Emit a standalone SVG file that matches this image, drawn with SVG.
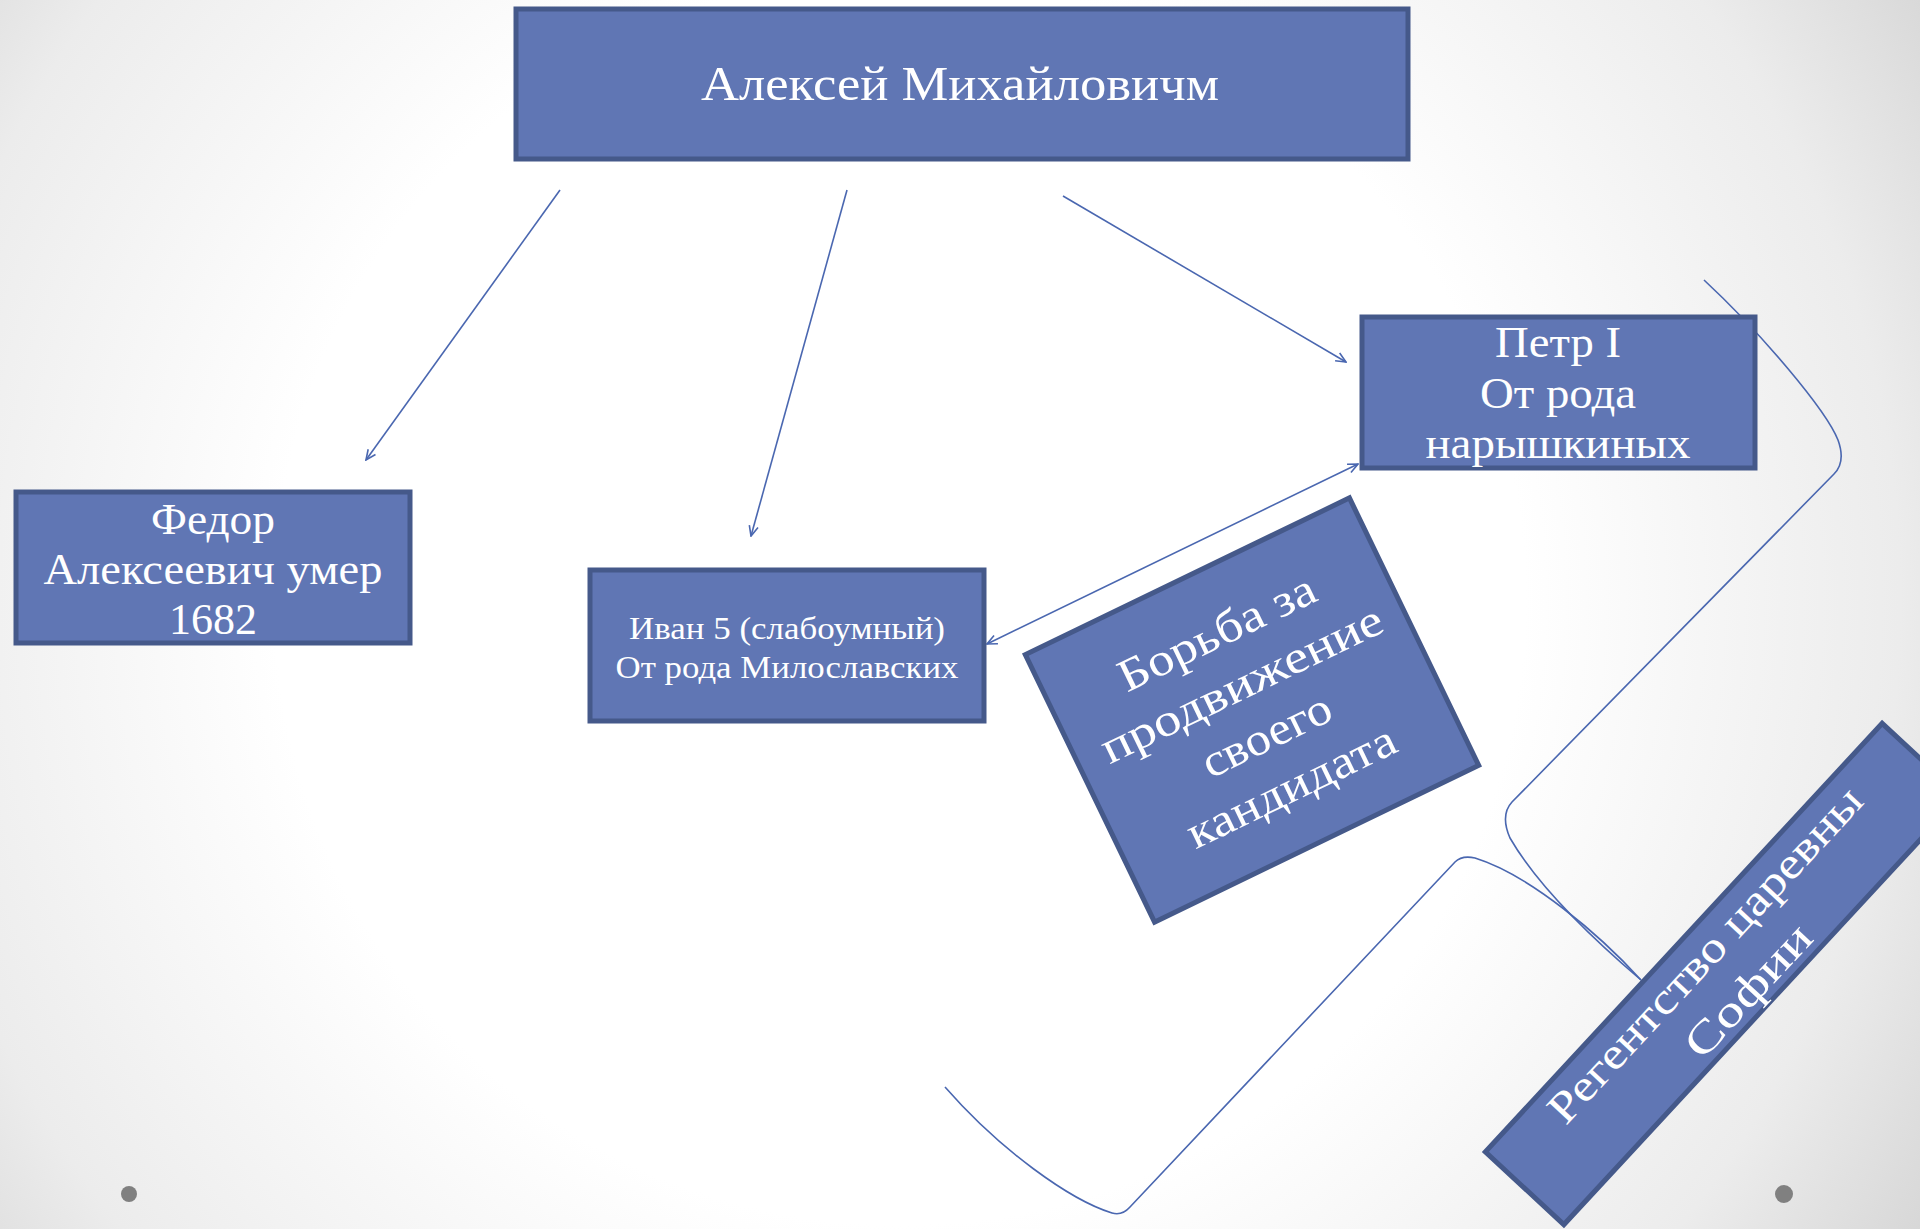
<svg xmlns="http://www.w3.org/2000/svg" width="1920" height="1229" viewBox="0 0 1920 1229">
<defs>
<radialGradient id="bg" cx="900" cy="600" r="1250" gradientUnits="userSpaceOnUse">
<stop offset="0" stop-color="#ffffff"/>
<stop offset="0.5" stop-color="#ffffff"/>
<stop offset="0.8" stop-color="#ececec"/>
<stop offset="1" stop-color="#d2d2d2"/>
</radialGradient>
<marker id="arr" viewBox="0 0 12 12" refX="11" refY="6" markerWidth="12" markerHeight="12" markerUnits="userSpaceOnUse" orient="auto-start-reverse">
<path d="M1,1.5 L11,6 L1,10.5" fill="none" stroke="#4a67b0" stroke-width="1.6"/>
</marker>
<style>
.box{fill:#6076b4;stroke:#45598a;stroke-width:5;stroke-linejoin:miter}
.t{font-family:"Liberation Serif","DejaVu Serif",serif;fill:#ffffff;text-anchor:middle}
.c{fill:none;stroke:#4a67b0;stroke-width:1.6}
</style>
</defs>
<rect x="0" y="0" width="1920" height="1229" fill="url(#bg)"/>

<g id="connectors">
<line class="c" x1="560" y1="190" x2="366" y2="460" marker-end="url(#arr)"/>
<line class="c" x1="847" y1="190" x2="751" y2="536" marker-end="url(#arr)"/>
<line class="c" x1="1063" y1="196" x2="1346" y2="362" marker-end="url(#arr)"/>
<line class="c" x1="987" y1="644" x2="1358" y2="464" marker-start="url(#arr)" marker-end="url(#arr)"/>
<path class="c" d="M1704,280 C1762,334 1826,410 1838,440 Q1846,462 1834,474 L1512,802 Q1500,815 1510,838 C1540,890 1600,945 1641,980"/>
<path class="c" d="M945,1087 C1000,1150 1070,1200 1112,1213 Q1122,1216 1130,1207 L1455,862 Q1462,855 1475,858 C1530,875 1600,935 1641,980"/>
</g>

<g id="node-aleksey">
<rect class="box" x="516" y="9" width="892" height="150"/>
<text class="t" x="960" y="100" font-size="48" textLength="518" lengthAdjust="spacingAndGlyphs">Алексей Михайловичм</text>
</g>

<g id="node-fedor">
<rect class="box" x="16" y="492" width="394" height="151"/>
<text class="t" x="213" y="534" font-size="44" textLength="124" lengthAdjust="spacingAndGlyphs">Федор</text>
<text class="t" x="213" y="584" font-size="44" textLength="339" lengthAdjust="spacingAndGlyphs">Алексеевич умер</text>
<text class="t" x="213" y="634" font-size="44">1682</text>
</g>

<g id="node-ivan">
<rect class="box" x="590" y="570" width="394" height="151"/>
<text class="t" x="787" y="639" font-size="32" textLength="316" lengthAdjust="spacingAndGlyphs">Иван 5 (слабоумный)</text>
<text class="t" x="787" y="678" font-size="32" textLength="343" lengthAdjust="spacingAndGlyphs">От рода Милославских</text>
</g>

<g id="node-petr">
<rect class="box" x="1362" y="317" width="393" height="151"/>
<text class="t" x="1558" y="357" font-size="44" textLength="126" lengthAdjust="spacingAndGlyphs">Петр I</text>
<text class="t" x="1558" y="408" font-size="44" textLength="156" lengthAdjust="spacingAndGlyphs">От рода</text>
<text class="t" x="1558" y="458" font-size="44" textLength="265" lengthAdjust="spacingAndGlyphs">нарышкиных</text>
</g>

<g id="node-borba" transform="translate(1252,710) rotate(-25.8)">
<rect class="box" x="-180" y="-148.5" width="360" height="297"/>
<text class="t" x="2" y="-70" font-size="46" textLength="214" lengthAdjust="spacingAndGlyphs">Борьба за</text>
<text class="t" x="2" y="-13" font-size="46" textLength="308" lengthAdjust="spacingAndGlyphs">продвижение</text>
<text class="t" x="2" y="44" font-size="46" textLength="139" lengthAdjust="spacingAndGlyphs">своего</text>
<text class="t" x="2" y="101" font-size="46" textLength="227" lengthAdjust="spacingAndGlyphs">кандидата</text>
</g>

<g id="node-regency" transform="translate(1723,974) rotate(-47.2)">
<rect class="box" x="-292" y="-53.5" width="584" height="107"/>
<text class="t" x="2" y="-12" font-size="44" textLength="441" lengthAdjust="spacingAndGlyphs">Регентство царевны</text>
<text class="t" x="5" y="44" font-size="44" textLength="166" lengthAdjust="spacingAndGlyphs">Софии</text>
</g>

<circle cx="129" cy="1194" r="8" fill="#808080"/>
<circle cx="1784" cy="1194" r="9" fill="#808080"/>
</svg>
